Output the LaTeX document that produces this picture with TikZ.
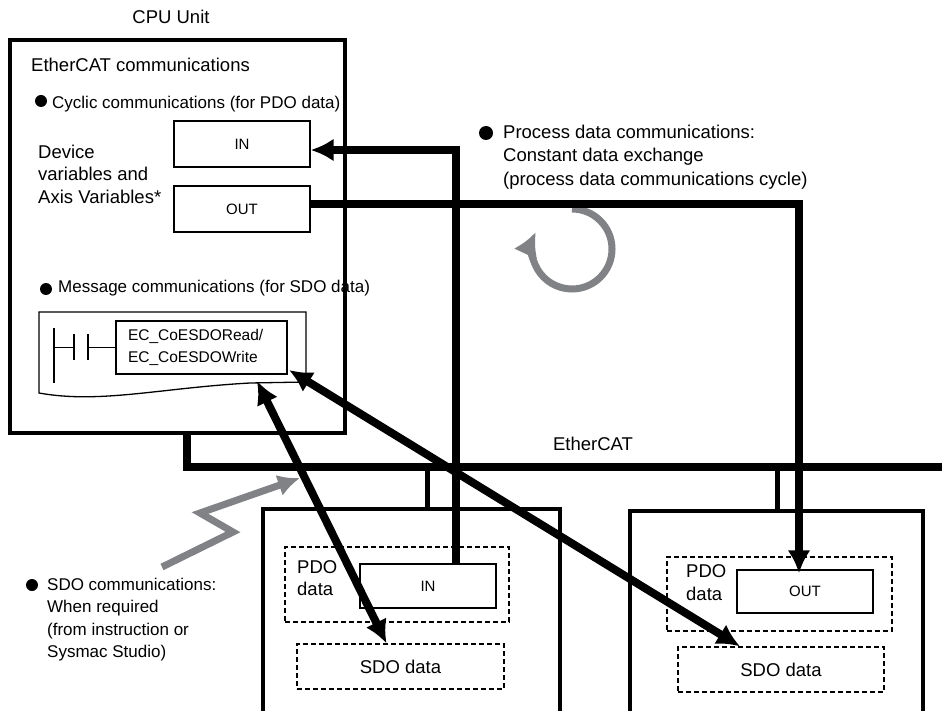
\documentclass[tikz,border=0pt]{standalone}
\usepackage{fontspec}
\setmainfont{Liberation Sans}
\usetikzlibrary{shapes, arrows, arrows.meta, calc}
\definecolor{arrowgray}{RGB}{128,130,133}
\tikzstyle{unitbox} = [draw, line width=3.5pt, rectangle, inner sep=0pt]
\tikzstyle{varbox} = [draw, line width=1.3pt, rectangle, minimum width=136pt, font=\fontsize{15}{18}\selectfont]
\tikzstyle{dashbox} = [draw, line width=1.3pt, dash pattern=on 5pt off 3pt, rectangle, font=\fontsize{18.5}{22.5}\selectfont]
\tikzstyle{dot} = [circle, fill=black, inner sep=0pt, minimum size=12pt]
\tikzstyle{lbl} = [inner sep=0pt, align=left, font=\fontsize{18.5}{22.5}\selectfont]
\tikzstyle{lblsmall} = [inner sep=0pt, align=left, font=\fontsize{17}{22.3}\selectfont]
\tikzstyle{busline} = [line width=8pt]
\tikzstyle{dropline} = [line width=5pt]
\tikzstyle{dataline} = [line width=8pt]
\tikzstyle{grayflow} = [line width=7pt, draw=arrowgray]
\tikzstyle{frame} = [line width=1.3pt]

\begin{document}
\begin{tikzpicture}[x=1pt, y=-1pt, >={Latex[length=23pt,width=23pt]}]
  \useasboundingbox (0,0) rectangle (942,711);

  \node [lbl] (cputitle) at (171,17) {CPU Unit};
  \node [unitbox, line width=4pt, minimum width=335pt, minimum height=393pt] (cpu) at (177.5,236.5) {};
  \node [lbl, anchor=west] (ecom) at (31,65) {EtherCAT communications};
  \node [dot] (dot1) at (41,101) {};
  \node [lblsmall, anchor=west] (cyclic) at (52,104) {Cyclic communications (for PDO data)};
  \node [lbl, anchor=west] (devvars) at (38,174) {Device\\variables and\\Axis Variables*};
  \node [varbox, minimum height=46pt] (cin) at (242,144) {IN};
  \node [varbox, minimum height=46pt] (cout) at (242,209) {OUT};
  \node [dot] (dot2) at (46,289) {};
  \node [lblsmall, anchor=west] (msg) at (58,288) {Message communications (for SDO data)};

  \draw [frame] (306,382) -- (306,312) -- (39,312) -- (39,393)
    .. controls (100,404) and (160,388) .. (250,383) -- (306,382);
  \node [varbox, minimum width=171pt, minimum height=53pt, text width=147pt, inner xsep=12pt,
    align=left, font=\fontsize{15.5}{22}\selectfont] (instr) at (201.5,347.5) {EC\_CoESDORead/\\EC\_CoESDOWrite};
  \draw [frame] (54,328) -- (54,383);
  \draw [frame] (54,347.5) -- (74,347.5);
  \draw [frame] (74,334) -- (74,360);
  \draw [frame] (88,334) -- (88,360);
  \draw [frame] (88,347.5) -- (instr.west);

  \node [dot, minimum size=14pt] (dot3) at (486,133) {};
  \node [lbl, anchor=west, font=\fontsize{18.5}{23.5}\selectfont] (proc) at (503,157)
    {Process data communications:\\Constant data exchange\\(process data communications cycle)};
  \coordinate (cyc) at (572,249);
  \draw [grayflow, ->, >={Latex[length=24pt,width=26pt]}] ($(cyc)+(0,-40)$) arc [start angle=-90, end angle=205, radius=40];

  \coordinate (busleft) at (187,467);
  \coordinate (busright) at (942,467);
  \draw [busline] (cpu.south -| busleft) -- (busleft) -- (busright);
  \node [lbl] (ecatlbl) at (593,444) {EtherCAT};

  \node [unitbox, minimum width=297pt, minimum height=222pt] (slave1) at (411.5,620) {};
  \node [unitbox, minimum width=293pt, minimum height=220pt] (slave2) at (776.5,621) {};
  \coordinate (drop1) at (427,467);
  \coordinate (drop2) at (777,467);
  \draw [dropline] (drop1) -- (drop1 |- slave1.north);
  \draw [dropline] (drop2) -- (drop2 |- slave2.north);

  \node [dashbox, minimum width=224pt, minimum height=75pt] (pdo1) at (397,584.5) {};
  \node [lbl, anchor=west] (pdo1lbl) at (297,578) {PDO\\data};
  \node [varbox, minimum height=44pt] (sin) at (428,586) {IN};
  \node [dashbox, minimum width=207pt, minimum height=45pt] (sdo1) at (400.5,666.5) {SDO data};

  \node [dashbox, minimum width=225pt, minimum height=74pt] (pdo2) at (779.5,594) {};
  \node [lbl, anchor=west] (pdo2lbl) at (686,582.5) {PDO\\data};
  \node [varbox, minimum height=43pt] (sout) at (805,591.5) {OUT};
  \node [dashbox, minimum width=206pt, minimum height=45pt] (sdo2) at (781,669.5) {SDO data};

  \node [dot] (dot4) at (32,585) {};
  \node [lblsmall, anchor=west] (sdocom) at (47,619.5)
    {SDO communications:\\When required\\(from instruction or\\Sysmac Studio)};

  \coordinate (inbend) at (456,150);
  \draw [dataline, ->] (sin.north -| inbend) -- (inbend) -- (cin.east |- inbend);
  \coordinate (outbend) at (799,204);
  \draw [dataline, ->] (cout.east |- outbend) -- (outbend) -- ([yshift=-4pt]outbend |- sout.north);

  \coordinate (sdoa) at (257,381);
  \coordinate (sdob) at (289,370);
  \draw [dataline, <->] (sdoa) -- ([xshift=-14pt]sdo1.north);
  \draw [dataline, <->] (sdob) -- ([xshift=-41pt]sdo2.north);

  \coordinate (zzstart) at (162,567);
  \coordinate (zzmid1) at (233,532);
  \coordinate (zzmid2) at (200,513);
  \coordinate (zzend) at (300,478);
  \draw [grayflow, ->, >={Latex[length=22pt,width=22pt]}] (zzstart) -- (zzmid1) -- (zzmid2) -- (zzend);
\end{tikzpicture}
\end{document}
